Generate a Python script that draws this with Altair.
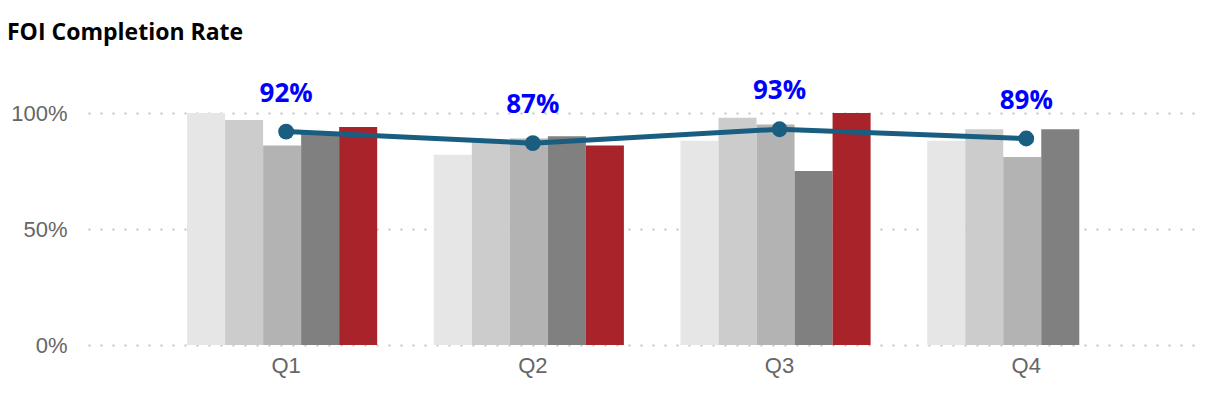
import altair as alt
import pandas as pd

quarters = ["Q1", "Q2", "Q3", "Q4"]
series = ["S1", "S2", "S3", "S4", "S5"]
s1 = [1.00, 0.82, 0.88, 0.88]
s2 = [0.97, 0.88, 0.98, 0.93]
s3 = [0.86, 0.89, 0.95, 0.81]
s4 = [0.91, 0.90, 0.75, 0.93]
s5 = [0.94, 0.86, 1.00, None]
overall = [0.92, 0.87, 0.93, 0.89]
bar_colors = ["#e6e6e6", "#cccccc", "#b3b3b3", "#808080", "#a8232a"]

rows = []
for name, vals in zip(series, [s1, s2, s3, s4, s5]):
    for q, v in zip(quarters, vals):
        if v is not None:
            rows.append({"quarter": q, "series": name, "value": v})
bars_df = pd.DataFrame(rows)
line_df = pd.DataFrame({"quarter": quarters, "rate": overall})

x_scale = alt.Scale(domain=quarters, paddingInner=0.197, paddingOuter=0.342, align=0.587)
y_scale = alt.Scale(domain=[0, 1], nice=False)

x_axis = alt.Axis(
    title=None, domain=False, ticks=False, labelAngle=0,
    labelFont="Liberation Sans", labelFontSize=22, labelColor="#666666",
    labelPadding=10, grid=False,
)
y_axis = alt.Axis(
    title=None, domain=False, ticks=False, values=[0, 0.5, 1], format=".0%",
    labelFont="Liberation Sans", labelFontSize=22, labelColor="#666666",
    labelPadding=21, grid=True, gridColor="#c4c4c4", gridDash=[2, 10],
    gridWidth=2,
)

bars = alt.Chart(bars_df).mark_bar().encode(
    x=alt.X("quarter:N", scale=x_scale, axis=x_axis, sort=quarters),
    xOffset=alt.XOffset("series:N", scale=alt.Scale(domain=series, paddingInner=0, paddingOuter=0.105, align=0)),
    y=alt.Y("value:Q", scale=y_scale, axis=y_axis),
    color=alt.Color("series:N", scale=alt.Scale(domain=series, range=bar_colors), legend=None),
)

line = alt.Chart(line_df).mark_line(color="#195e80", strokeWidth=5).encode(
    x=alt.X("quarter:N", scale=x_scale, sort=quarters),
    y=alt.Y("rate:Q", scale=y_scale),
)
points = alt.Chart(line_df).mark_circle(color="#195e80", size=250, opacity=1).encode(
    x=alt.X("quarter:N", scale=x_scale, sort=quarters),
    y=alt.Y("rate:Q", scale=y_scale),
)
labels = alt.Chart(line_df).mark_text(
    dy=-38, baseline="middle", align="center", font="Open Sans",
    fontSize=26, fontWeight="bold", color="#0000ff",
).encode(
    x=alt.X("quarter:N", scale=x_scale, sort=quarters),
    y=alt.Y("rate:Q", scale=y_scale),
    text=alt.Text("rate:Q", format=".0%"),
)

chart = alt.layer(bars, line, points, labels).properties(
    width=1107,
    height=232,
    title=alt.TitleParams(
        "FOI Completion Rate", anchor="start", frame="group", dx=-81, dy=-29,
        font="Open Sans", fontSize=23, fontWeight="bold", color="#000000",
    ),
    autosize=alt.AutoSizeParams(type="none"),
    padding={"left": 80, "top": 105, "right": 2, "bottom": 52},
).configure_view(stroke=None)

chart.save("out.html", embed_options={"renderer": "svg", "actions": False})
